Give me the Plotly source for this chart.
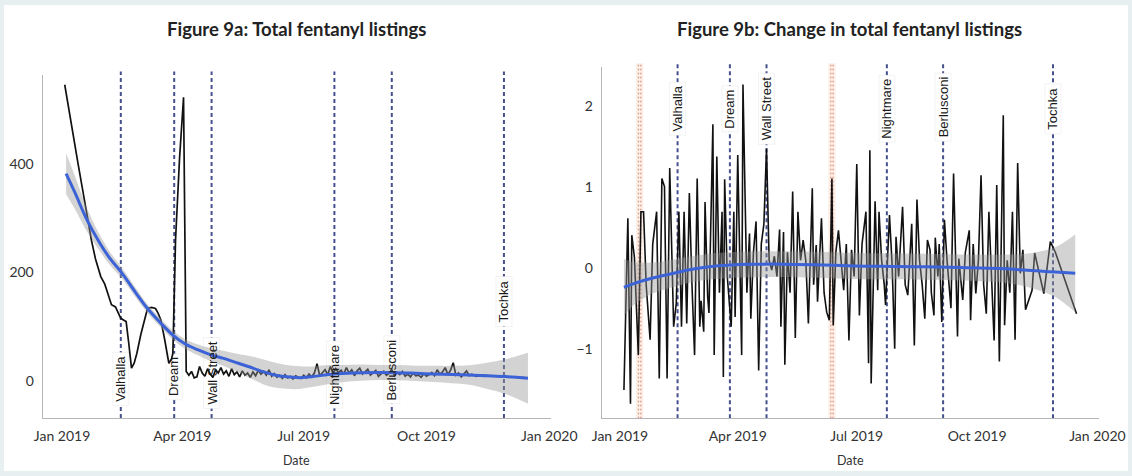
import pandas as pd
import plotly.graph_objects as go

BASE = pd.Timestamp("2019-01-01")

# ---------------- Figure 9a data (days since 2019-01-01, listings) ----------------
total_day = [2, 7, 12, 17, 22, 25, 29, 32, 35, 37, 40, 42, 44, 46, 48, 50, 52, 54, 56, 59,
             62, 64, 67, 70, 72, 74, 77, 80, 82, 83, 85, 88, 91, 93, 95, 97, 99, 101, 103, 105,
             107, 109, 111, 113, 115, 117, 119, 121, 123, 125, 127, 129, 131, 133, 135, 137,
             139, 141, 143, 145, 147, 149, 151, 153, 155, 157, 159, 161, 163, 165, 167, 169,
             171, 173, 175, 177, 179, 181, 183, 185, 187, 189, 191, 193, 195, 197, 199, 201,
             203, 205, 207, 209, 211, 213, 215, 217, 219, 221, 223, 225, 227, 229, 231, 233,
             235, 237, 239, 241, 243, 245, 247, 249, 251, 253, 255, 257, 259, 261, 263, 265,
             267, 269, 271, 273, 275, 277, 279, 281, 283, 285, 287, 289, 291, 293, 295, 297,
             299, 301, 303, 305, 307, 310, 315, 320, 326, 333, 340, 349]
total_listings = [546, 470, 400, 330, 259, 225, 192, 178, 155, 140, 136, 124, 115, 112, 109, 68, 23, 32, 50, 85,
                  112, 133, 135, 133, 124, 112, 74, 32, 40, 50, 259, 410, 523, 17, 10, 17, 5, 7, 26, 14,
                  8, 22, 12, 6, 20, 14, 24, 12, 18, 8, 22, 11, 16, 7, 18, 10,
                  14, 6, 16, 9, 19, 12, 17, 10, 20, 8, 13, 6, 10, 4, 11, 5,
                  8, 3, 9, 6, 4, 10, 5, 12, 7, 14, 31, 9, 14, 20, 11, 26,
                  13, 22, 15, 19, 12, 24, 14, 20, 9, 18, 23, 12, 16, 21, 10, 15,
                  19, 8, 13, 17, 10, 14, 20, 9, 15, 11, 17, 8, 12, 7, 14, 9,
                  10, 6, 13, 8, 11, 15, 9, 20, 12, 16, 24, 11, 19, 33, 10, 14,
                  7, 13, 18, 9, 12, 8, 10, 9, 8, 7, 6, 5]

# loess fit and its confidence half-width
smooth_a_day = [3, 10, 18, 28, 36, 45, 55, 64, 74, 83, 92, 102, 111, 121, 132, 143, 151, 159, 168,
                178, 187, 197, 210, 224, 238, 251, 265, 278, 292, 305, 318, 332, 349]
smooth_a_fit = [382, 345, 300, 255, 225, 198, 163, 133, 106, 84, 68, 56.6, 48, 41, 32, 23, 16, 10.5, 7,
                5.5, 7, 10.5, 13, 14.7, 15, 14.7, 13.5, 12.3, 11.2, 10.5, 9, 7.4, 4.4]
smooth_a_se = [38, 30, 22, 15, 12, 10, 9, 8, 8, 8, 9, 10, 12, 14, 17, 21, 23, 23, 22,
               21, 19, 18, 16, 15, 14, 14, 14, 15, 16, 18, 24, 32, 47]

# ---------------- Figure 9b data (days since 2019-01-01, change) ----------------
change_day = [3, 6, 8, 9, 11, 14, 16, 18, 20, 23, 25, 28, 30, 32, 34, 36, 38, 41, 43, 45,
              47, 49, 51, 53, 55, 57, 59, 61, 62, 64, 65, 67, 68, 71, 72, 74, 76, 78, 79, 80,
              82, 84, 85, 87, 88, 90, 92, 93, 94, 97, 99, 100, 102, 104, 106, 108, 110, 112, 114, 116,
              118, 120, 122, 123, 125, 126, 128, 130, 132, 134, 136, 138, 140, 142, 143, 144, 147, 148, 150, 151,
              154, 156, 158, 160, 162, 163, 165, 167, 169, 171, 173, 175, 177, 179, 181, 183, 185, 188, 190, 191,
              192, 195, 197, 198, 200, 202, 203, 206, 208, 210, 211, 213, 216, 218, 220, 222, 223, 225, 227, 229,
              231, 233, 235, 237, 238, 240, 241, 243, 244, 246, 248, 250, 253, 255, 258, 259, 262, 264, 267, 268,
              270, 272, 274, 276, 278, 280, 282, 284, 286, 288, 290, 293, 294, 296, 298, 300, 302, 304, 306, 308,
              310, 315, 317, 324, 329, 333, 349]
change_value = [-1.50, 0.62, -1.67, 0.41, 0.14, -1.07, 0.70, 0.70, -0.20, -0.88, 0.30, 0.70, -1.36, 1.11, 1.01, -1.36, 1.24, -0.72, -0.43, 0.70,
                -0.72, 0.70, -0.68, 0.93, -0.20, -1.07, 1.11, -0.72, -0.40, -0.78, 0.82, -0.35, -0.55, 1.78, -1.07, 1.38, -0.30, 0.70, -1.34, 1.10,
                -0.10, -0.60, -0.72, 0.70, -0.60, 1.40, -0.20, -1.07, 2.27, -0.30, 0.43, -0.62, 0.20, 0.58, -1.26, 0.30, 0.55, 1.48, 0.10, -0.02,
                0.15, -0.10, 0.48, -0.72, 0.45, -1.19, 0.20, -0.30, 0.95, -0.86, 0.70, 0.10, 0.35, 0.10, -0.27, -0.68, 0.99, -0.20, 0.29, -0.41,
                0.62, -0.30, -0.54, -0.64, 1.11, -0.70, 0.20, 0.47, 0.10, -0.27, 0.30, -0.89, 0.23, -0.10, 1.29, -0.58, 0.30, 0.70, -1.17, 1.46,
                -1.42, 0.83, -0.27, 0.70, 0.10, -0.20, -0.45, 0.66, 0.05, -0.99, 0.39, -0.10, 0.76, -0.20, -0.33, 0.20, 0.55, -0.95, 0.85, 0.10,
                -0.20, -0.62, 0.35, 0.23, -0.30, -0.58, 0.38, -0.10, 0.30, -0.66, 0.60, 0.10, -0.49, 1.17, -0.84, 0.12, -0.39, 0.20, 0.47, -0.64,
                0.30, -0.31, 0.10, 1.15, -0.20, -0.56, 0.70, -0.10, -0.89, 1.03, -1.15, 1.89, -0.70, 0.10, -0.30, 0.70, -0.88, 1.30, -0.06, 0.23,
                -0.51, -0.27, 0.19, -0.31, 0.33, 0.19, -0.56]

smooth_b_day = [3, 10, 20, 30, 41, 55, 70, 83, 100, 124, 150, 180, 210, 235, 260, 290, 305, 318, 333, 348]
smooth_b_fit = [-0.235, -0.19, -0.14, -0.10, -0.06, -0.01, 0.025, 0.04, 0.05, 0.053, 0.045, 0.03, 0.025, 0.02,
                0.012, 0.0, -0.015, -0.03, -0.045, -0.06]
smooth_b_se = [0.35, 0.27, 0.21, 0.18, 0.17, 0.16, 0.16, 0.16, 0.16, 0.16, 0.16, 0.16, 0.16, 0.16,
               0.16, 0.17, 0.19, 0.23, 0.31, 0.48]

# ---------------- events ----------------
event_names = ["Valhalla", "Dream", "Wall Street", "Nightmare", "Berlusconi", "Tochka"]
event_dates = ["2019-02-14", "2019-03-26", "2019-04-23", "2019-07-24", "2019-09-05", "2019-11-28"]
label_y_a = [3, 7, 14, 11, 20, 146]
label_y_b = [1.97, 1.97, 1.97, 1.97, 1.99, 1.97]
red_dates = ["2019-01-16", "2019-06-12"]

x_ticks = ["2019-01-01", "2019-04-01", "2019-07-01", "2019-10-01", "2020-01-01"]
x_tick_text = ["Jan 2019", "Apr 2019", "Jul 2019", "Oct 2019", "Jan 2020"]
ya_ticks = [0, 200, 400]
yb_ticks = [-1, 0, 1, 2]

# approximate rendered length (px) of each rotated label, for its white box
label_len_px = [47, 40, 65, 61, 62, 44]


def to_dates(days):
    return [BASE + pd.Timedelta(days=d) for d in days]


W, H = 1132, 476
BLUE = "#3b62d6"
BAND = "rgba(150,150,150,0.42)"
VLINE = "#46508c"
TICKFONT = dict(family="Lato, Open Sans, sans-serif", size=14, color="#333333")
LABELFONT = dict(family="Liberation Sans, Arial, sans-serif", size=13, color="#1a1a1a")

fig = go.Figure()


def add_panel(xa, ya, days, vals, sdays, sfit, sse, lw):
    xs = to_dates(days)
    sx = to_dates(sdays)
    fig.add_trace(go.Scatter(x=xs, y=vals, mode="lines", line=dict(color="#111111", width=lw),
                             xaxis=xa, yaxis=ya, showlegend=False, hoverinfo="skip"))
    lo = [f - s for f, s in zip(sfit, sse)]
    hi = [f + s for f, s in zip(sfit, sse)]
    fig.add_trace(go.Scatter(x=sx, y=lo, mode="lines", line=dict(width=0, shape="spline"),
                             xaxis=xa, yaxis=ya, showlegend=False, hoverinfo="skip"))
    fig.add_trace(go.Scatter(x=sx, y=hi, mode="lines", line=dict(width=0, shape="spline"),
                             fill="tonexty", fillcolor=BAND,
                             xaxis=xa, yaxis=ya, showlegend=False, hoverinfo="skip"))
    fig.add_trace(go.Scatter(x=sx, y=sfit, mode="lines", line=dict(color=BLUE, width=3, shape="spline"),
                             xaxis=xa, yaxis=ya, showlegend=False, hoverinfo="skip"))


add_panel("x", "y", total_day, total_listings, smooth_a_day, smooth_a_fit, smooth_a_se, 1.7)
add_panel("x2", "y2", change_day, change_value, smooth_b_day, smooth_b_fit, smooth_b_se, 1.6)

shapes = [dict(type="rect", xref="paper", yref="paper", x0=4 / W, x1=1 - 4 / W, y0=5 / H, y1=1 - 5 / H,
               fillcolor="white", line=dict(width=0), layer="below")]

for d in red_dates:
    t = pd.Timestamp(d)
    shapes.append(dict(type="rect", xref="x2", yref="y2 domain",
                       x0=t - pd.Timedelta(days=2.8), x1=t + pd.Timedelta(days=2.8), y0=0, y1=1.01,
                       fillcolor="rgba(245,210,185,0.35)", line=dict(width=0), layer="below"))
    for off in (-0.9, 0.9):
        tt = t + pd.Timedelta(days=off)
        shapes.append(dict(type="line", xref="x2", yref="y2 domain", x0=tt, x1=tt, y0=0, y1=1.01,
                           line=dict(color="#e0907e", width=1.3, dash="1.5px,2.5px"), layer="below"))

for xr, yr in (("x", "y domain"), ("x2", "y2 domain")):
    for d in event_dates:
        shapes.append(dict(type="line", xref=xr, yref=yr, x0=d, x1=d, y0=0, y1=1.01,
                           line=dict(color=VLINE, width=2, dash="4px,3px"), layer="below"))

annotations = []
for xr, yr, ys in (("x", "y", label_y_a), ("x2", "y2", label_y_b)):
    for name, d, yv, L in zip(event_names, event_dates, ys, label_len_px):
        shapes.append(dict(type="rect", xref=xr, yref=yr, xsizemode="pixel", ysizemode="pixel",
                           xanchor=d, yanchor=yv, x0=-8, x1=8, y0=-(L / 2 + 3), y1=L / 2 + 3,
                           fillcolor="white", line=dict(color="rgba(220,220,220,0.6)", width=0.6),
                           layer="below"))
        annotations.append(dict(x=d, y=yv, xref=xr, yref=yr, text=name, textangle=-90, showarrow=False,
                                font=LABELFONT, xanchor="center", yanchor="middle"))

TITLEFONT = dict(family="Lato, Open Sans, sans-serif", size=18.5, color="#222222")
AXTITLEFONT = dict(family="Lato, Open Sans, sans-serif", size=12.5, color="#333333")
annotations += [
    dict(x=296 / W, y=1 - 29 / H, xref="paper", yref="paper", showarrow=False,
         text="<b>Figure 9a: Total fentanyl listings</b>", font=TITLEFONT, xanchor="center", yanchor="middle"),
    dict(x=849 / W, y=1 - 29 / H, xref="paper", yref="paper", showarrow=False,
         text="<b>Figure 9b: Change in total fentanyl listings</b>", font=TITLEFONT, xanchor="center", yanchor="middle"),
    dict(x=296 / W, y=1 - 460 / H, xref="paper", yref="paper", showarrow=False, text="Date",
         font=AXTITLEFONT, xanchor="center", yanchor="middle"),
    dict(x=850 / W, y=1 - 460 / H, xref="paper", yref="paper", showarrow=False, text="Date",
         font=AXTITLEFONT, xanchor="center", yanchor="middle"),
]

axis_common = dict(showgrid=False, zeroline=False, showline=True, linecolor="#b5b5b5", linewidth=1.3,
                   ticks="outside", ticklen=5, tickcolor="rgba(0,0,0,0)", tickfont=TICKFONT,
                   automargin=False)

fig.update_layout(
    width=W, height=H, autosize=False,
    margin=dict(l=0, r=0, t=0, b=0, pad=0),
    paper_bgcolor="#e7eff0", plot_bgcolor="rgba(0,0,0,0)",
    showlegend=False,
    shapes=shapes, annotations=annotations,
    xaxis=dict(domain=[42.7 / W, 550.5 / W], type="date",
               range=["2018-12-17 12:00", "2020-01-01 21:00"],
               tickvals=x_ticks, ticktext=x_tick_text, anchor="y", **axis_common),
    yaxis=dict(domain=[1 - 418 / H, 1 - 75 / H], range=[-69, 564],
               tickvals=ya_ticks, anchor="x", **axis_common),
    xaxis2=dict(domain=[601.7 / W, 1098.5 / W], type="date",
                range=["2018-12-18", "2020-01-01 19:00"],
                tickvals=x_ticks, ticktext=x_tick_text, anchor="y2", **axis_common),
    yaxis2=dict(domain=[1 - 418.3 / H, 1 - 66.7 / H], range=[-1.85, 2.49],
                tickvals=yb_ticks, anchor="x2", **axis_common),
)

fig.write_html(
    "out.html",
    config={"responsive": False, "displayModeBar": False},
    post_script="document.body.style.margin='0px';document.documentElement.style.overflow='hidden';",
)
